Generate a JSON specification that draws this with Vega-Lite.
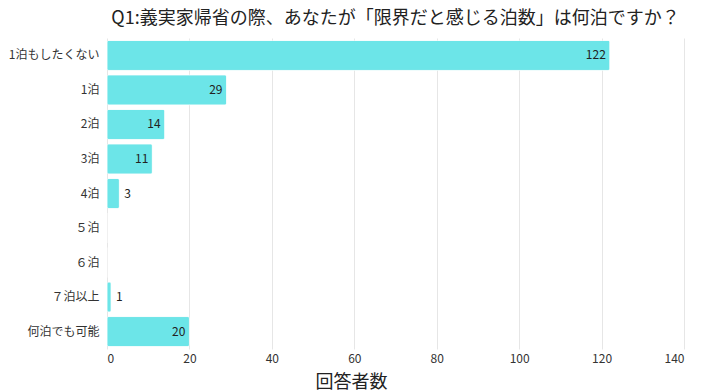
{
  "$schema": "https://vega.github.io/schema/vega-lite/v6.json",
  "autosize": "none",
  "width": 577,
  "height": 311,
  "padding": {"left": 107, "top": 38, "right": 26, "bottom": 43},
  "background": "white",
  "config": {
    "font": "Noto Sans CJK JP",
    "view": {"stroke": null}
  },
  "title": {
    "text": "Q1:義実家帰省の際、あなたが「限界だと感じる泊数」は何泊ですか？",
    "fontSize": 18,
    "fontWeight": "normal",
    "color": "#222222",
    "offset": 10,
    "anchor": "middle"
  },
  "data": {
    "values": [
      {"category": "1泊もしたくない", "count": 122},
      {"category": "1泊", "count": 29},
      {"category": "2泊", "count": 14},
      {"category": "3泊", "count": 11},
      {"category": "4泊", "count": 3},
      {"category": "５泊", "count": 0},
      {"category": "６泊", "count": 0},
      {"category": "７泊以上", "count": 1},
      {"category": "何泊でも可能", "count": 20}
    ]
  },
  "encoding": {
    "y": {
      "field": "category",
      "type": "nominal",
      "sort": null,
      "scale": {"paddingInner": 0.13, "paddingOuter": 0.07},
      "axis": {
        "title": null,
        "domain": false,
        "ticks": false,
        "labelPadding": 8,
        "labelFontSize": 12,
        "labelColor": "#333333"
      }
    },
    "x": {
      "field": "count",
      "type": "quantitative",
      "scale": {"domain": [0, 140], "nice": false},
      "axis": {
        "values": [0, 20, 40, 60, 80, 100, 120, 140],
        "domain": false,
        "ticks": false,
        "grid": true,
        "gridColor": "#e6e6e6",
        "labelFontSize": 12,
        "labelColor": "#333333",
        "labelPadding": 4,
        "title": "回答者数",
        "titleFontSize": 18,
        "titleFontWeight": "normal",
        "titleColor": "#222222",
        "titleX": 244,
        "titleY": 38,
        "titleAnchor": "middle",
        "titleBaseline": "alphabetic"
      }
    }
  },
  "layer": [
    {
      "mark": {"type": "bar", "color": "#6ce5e8", "cornerRadius": 2, "stroke": "#ffffff", "strokeWidth": 0.5}
    },
    {
      "transform": [{"filter": "datum.count >= 10"}],
      "mark": {"type": "text", "align": "right", "dx": -4, "fontSize": 12, "color": "#222222"},
      "encoding": {"text": {"field": "count", "type": "quantitative"}}
    },
    {
      "transform": [{"filter": "datum.count > 0 && datum.count < 10"}],
      "mark": {"type": "text", "align": "left", "dx": 5, "fontSize": 12, "color": "#222222"},
      "encoding": {"text": {"field": "count", "type": "quantitative"}}
    }
  ]
}
